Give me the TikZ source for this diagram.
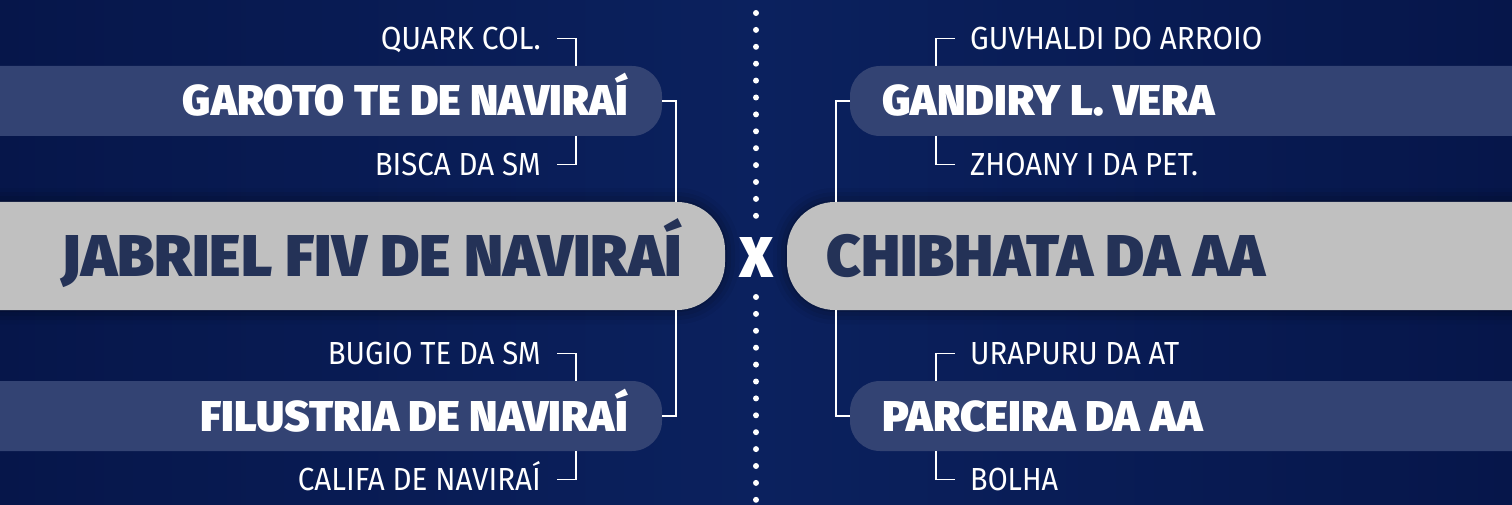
\documentclass[tikz,border=0pt]{standalone}
\usepackage{fontspec}
\usepackage{graphicx}
\newfontfamily\heavyfont{Fira Sans Black}
\newfontfamily\lightfont{Fira Sans}
\usetikzlibrary{shadows.blur}
\definecolor{bgedge}{HTML}{06164A}
\definecolor{bgmid}{HTML}{0B215E}
\definecolor{barblue}{HTML}{334373}
\definecolor{bargray}{HTML}{C0C0C0}
\definecolor{grayink}{HTML}{243257}
% width, cap height, text
\newcommand\fitbox[3]{\resizebox{#1}{#2}{\raisebox{0pt}[\fontcharht\font`H][0pt]{#3}}}
\tikzset{
  bluebar/.style={fill=barblue, rounded corners=30pt},
  graybar/.style={fill=bargray, rounded corners=48pt, blur shadow={shadow xshift=0pt, shadow yshift=0pt, shadow blur radius=14pt, shadow opacity=55}},
  teamname/.style={inner sep=0pt, text=white, font=\heavyfont\fontsize{44}{44}\selectfont},
  finalist/.style={inner sep=0pt, text=grayink, font=\heavyfont\fontsize{60}{60}\selectfont},
  lbl/.style={inner sep=0pt, text=white, font=\lightfont\fontsize{32}{32}\selectfont},
  link/.style={draw=white, line width=1.5pt},
  dotmark/.style={fill=white},
}
\begin{document}
\begin{tikzpicture}[x=1pt, y=-1pt]
\useasboundingbox (0,0) rectangle (1512,505);
\clip (0,0) rectangle (1512,505);
\shade[left color=bgedge, right color=bgedge, middle color=bgmid] (0,0) rectangle (1512,505);

% bars (outer ends run past the picture edge)
\path[bluebar] (-80,66) rectangle (662,136);
\path[bluebar] (-80,381) rectangle (662,451);
\path[bluebar] (850,66) rectangle (1592,136);
\path[bluebar] (850,381) rectangle (1592,451);
\path[graybar] (-120,202) rectangle (725,310);
\path[graybar] (787,202) rectangle (1632,310);

% named points on the bars
\coordinate (tlTop) at (576,66);  \coordinate (tlBot) at (576,136);
\coordinate (blTop) at (576,381); \coordinate (blBot) at (576,451);
\coordinate (trTop) at (936,66);  \coordinate (trBot) at (936,136);
\coordinate (brTop) at (936,381); \coordinate (brBot) at (936,451);
\coordinate (tlEnd) at (662,101); \coordinate (blEnd) at (662,416);
\coordinate (trEnd) at (850,101); \coordinate (brEnd) at (850,416);
\coordinate (glTop) at (676,202); \coordinate (glBot) at (676,310);
\coordinate (grTop) at (836,202); \coordinate (grBot) at (836,310);

% team names
\node[teamname, anchor=base east] (garoto) at (628,115.5) {\fitbox{445pt}{30pt}{GAROTO TE DE NAVIRAÍ}};
\node[teamname, anchor=base east] (filustria) at (628,431.5) {\fitbox{427pt}{30pt}{FILUSTRIA DE NAVIRAÍ}};
\node[teamname, anchor=base west] (gandiry) at (882,115.5) {\fitbox{333pt}{30pt}{GANDIRY L. VERA}};
\node[teamname, anchor=base west] (parceira) at (882,431.5) {\fitbox{321pt}{30pt}{PARCEIRA DA AA}};
\node[finalist, anchor=base east] (jabriel) at (682,276.5) {\fitbox{620pt}{41pt}{JABRIEL FIV DE NAVIRAÍ}};
\node[finalist, anchor=base west] (chibhata) at (826,276.5) {\fitbox{439pt}{41pt}{CHIBHATA DA AA}};
\node[teamname, anchor=base] (versus) at (756,277) {\fitbox{34pt}{40pt}{X}};

% labels
\node[lbl, anchor=base east] (quark) at (541,49.5) {\fitbox{160pt}{22pt}{QUARK COL.}};
\node[lbl, anchor=base east] (bisca) at (541,175.5) {\fitbox{166pt}{22pt}{BISCA DA SM}};
\node[lbl, anchor=base east] (bugio) at (541,364.5) {\fitbox{213pt}{22pt}{BUGIO TE DA SM}};
\node[lbl, anchor=base east] (califa) at (541,490.5) {\fitbox{243pt}{22pt}{CALIFA DE NAVIRAÍ}};
\node[lbl, anchor=base west] (guvhaldi) at (970,49.5) {\fitbox{292pt}{22pt}{GUVHALDI DO ARROIO}};
\node[lbl, anchor=base west] (zhoany) at (970,175.5) {\fitbox{228pt}{22pt}{ZHOANY I DA PET.}};
\node[lbl, anchor=base west] (urapuru) at (970,364.5) {\fitbox{209pt}{22pt}{URAPURU DA AT}};
\node[lbl, anchor=base west] (bolha) at (970,490.5) {\fitbox{88pt}{22pt}{BOLHA}};

% connectors
\draw[link] ([xshift=16pt]quark.east) -| (tlTop);
\draw[link] ([xshift=16pt]bisca.east) -| (tlBot);
\draw[link] ([xshift=16pt]bugio.east) -| (blTop);
\draw[link] ([xshift=16pt]califa.east) -| (blBot);
\draw[link] ([xshift=-15pt]guvhaldi.west) -| (trTop);
\draw[link] ([xshift=-15pt]zhoany.west) -| (trBot);
\draw[link] ([xshift=-15pt]urapuru.west) -| (brTop);
\draw[link] ([xshift=-15pt]bolha.west) -| (brBot);
\draw[link] (tlEnd) -| (glTop);
\draw[link] (blEnd) -| (glBot);
\draw[link] (trEnd) -| (grTop);
\draw[link] (brEnd) -| (grBot);

% dotted divider
\foreach \k in {0,...,12} {
  \fill[dotmark] (756,13+16.9*\k) circle (3pt);
  \fill[dotmark] (756,297+16.9*\k) circle (3pt);
}
\end{tikzpicture}
\end{document}
